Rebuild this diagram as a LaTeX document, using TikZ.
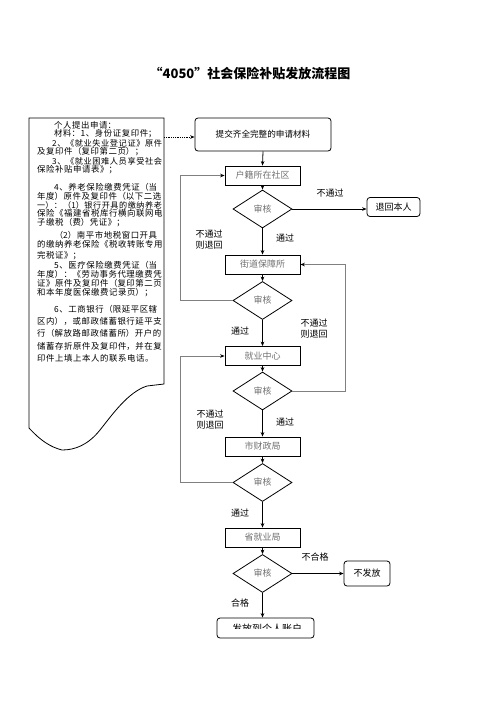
\documentclass[tikz,border=0pt]{standalone}
\usepackage{fontspec}
\setmainfont{Noto Sans CJK SC}
\newfontfamily\docfont{Noto Sans CJK SC}[Kerning=Off,LetterSpace=7]
\usetikzlibrary{arrows.meta,shapes.geometric}
\definecolor{tgray}{HTML}{707070}
\definecolor{lgray}{HTML}{808080}
\newcommand{\dLP}{\makebox[1.07em][r]{^^^^ff08}}
\newcommand{\dRP}{\makebox[1.07em][l]{^^^^ff09}}
\newcommand{\dCO}{\makebox[1.07em][l]{^^^^ff1a}}
\newcommand{\dSC}{\makebox[1.07em][l]{^^^^ff1b}}
\newcommand{\dCM}{\makebox[1.07em][l]{^^^^ff0c}}
\begin{document}
\begin{tikzpicture}[x=1pt,y=-1pt,
  every node/.style={inner sep=0pt},
  flowbox/.style={draw, line width=0.8pt, minimum width=75pt, minimum height=19pt, text=tgray, font=\fontsize{9}{10}\selectfont},
  checkdia/.style={diamond, draw, line width=0.8pt, aspect=1.55, minimum width=59pt, minimum height=38pt, text=tgray, font=\fontsize{9}{10}\selectfont},
  roundbox/.style={draw, line width=0.8pt, rounded corners=3pt, font=\fontsize{9}{10}\selectfont},
  lbl/.style={font=\fontsize{9}{11}\selectfont, align=center},
  doctext/.style={anchor=west, font=\docfont\fontsize{8.4}{10}\selectfont},
  arr/.style={line width=0.8pt, -{Stealth[length=4.5pt,width=3.6pt]}},
  backarr/.style={line width=0.9pt, draw=lgray, -{Stealth[length=4.5pt,width=3.6pt,black]}},
]
\useasboundingbox (0,0) rectangle (496,702);

% title
\node[font=\fontsize{13}{15}\selectfont\bfseries] (title) at (250,73) {“4050”社会保险补贴发放流程图};

% document shape
\draw[line width=0.8pt] (29,118) -- (164,118) -- (164,384) -- (147,386)
  .. controls (128,392) and (112,415) .. (100,430)
  .. controls (88,445) and (75,450) .. (62,450)
  .. controls (50,447) and (40,440) .. (29,428) -- cycle;
\coordinate (docR) at (164,137);

\node[doctext] (t1) at (54,125) {个人提出申请\dCO};
\node[doctext] (t2) at (54,133.5) {材料\dCO 1、身份证复印件\dSC};
\node[doctext,font=\docfont\fontsize{8.2}{10}\selectfont] (t3) at (52,143) {2、《就业失业登记证》原件};
\node[doctext] (t4) at (37,151.5) {及复印件\dLP 复印第二页\dRP\dSC};
\node[doctext,font=\docfont\fontsize{8.2}{10}\selectfont] (t5) at (52,161) {3、《就业困难人员享受社会};
\node[doctext] (t6) at (37,169.5) {保险补贴申请表》\dSC};
\node[doctext] (t7) at (54,187.5) {4、养老保险缴费凭证\dLP 当};
\node[doctext] (t8) at (37,196.5) {年度\dRP 原件及复印件\dLP 以下二选};
\node[doctext,font=\docfont\fontsize{8.1}{10}\selectfont] (t9) at (37,205) {一\dRP\dCO\dLP 1\dRP 银行开具的缴纳养老};
\node[doctext] (t10) at (37,213.5) {保险《福建省税库行横向联网电};
\node[doctext] (t11) at (37,222.5) {子缴税\dLP 费\dRP 凭证》\dSC};
\node[doctext] (t12) at (54,235) {\dLP 2\dRP 南平市地税窗口开具};
\node[doctext] (t13) at (37,244.5) {的缴纳养老保险《税收转账专用};
\node[doctext] (t14) at (37,255.5) {完税证》\dSC};
\node[doctext] (t15) at (54,265) {5、医疗保险缴费凭证\dLP 当};
\node[doctext] (t16) at (37,274) {年度\dRP\dCO《劳动事务代理缴费凭};
\node[doctext] (t17) at (37,283.5) {证》原件及复印件\dLP 复印第二页};
\node[doctext] (t18) at (37,293) {和本年度医保缴费记录页\dRP\dSC};
\node[doctext] (t19) at (54,309) {6、工商银行\dLP 限延平区辖};
\node[doctext] (t20) at (37,321) {区内\dRP\dCM 或邮政储蓄银行延平支};
\node[doctext] (t21) at (37,333.5) {行\dLP 解放路邮政储蓄所\dRP 开户的};
\node[doctext] (t22) at (37,346) {储蓄存折原件及复印件\dCM 并在复};
\node[doctext] (t23) at (37,358) {印件上填上本人的联系电话。};

% flow nodes
\node[roundbox, minimum width=136pt, minimum height=33pt, font=\fontsize{8.6}{10}\selectfont] (submit) at (263,134.5) {提交齐全完整的申请材料};
\node[flowbox] (hj) at (262.5,175.5) {户籍所在社区};
\node[checkdia] (d1) at (262.5,209) {审核};
\node[roundbox, minimum width=53pt, minimum height=19pt] (thbr) at (393.5,207) {退回本人};
\node[flowbox] (jd) at (262.5,264.5) {街道保障所};
\node[checkdia] (d2) at (262.5,300.5) {审核};
\node[flowbox] (jy) at (262.5,356) {就业中心};
\node[checkdia] (d3) at (262.5,391) {审核};
\node[flowbox] (cz) at (262.5,446.5) {市财政局};
\node[checkdia] (d4) at (262.5,482.5) {审核};
\node[flowbox] (sj) at (262.5,537.5) {省就业局};
\node[checkdia] (d5) at (262.5,573.5) {审核};
\node[roundbox, minimum width=46pt, minimum height=25pt] (bff) at (367,573.5) {\raisebox{-3pt}{不发放}};
\node[roundbox, minimum width=97pt, minimum height=20pt] (final) at (265.5,628) {};
\begin{scope}
  \clip (217,617) rectangle (314,628.5);
  \node[font=\fontsize{10}{11}\selectfont] (finaltext) at (267,628.5) {发放到个人账户};
\end{scope}

% connectors
\draw[line width=0.8pt, densely dotted, -{Stealth[length=4.5pt,width=3.6pt]}] (docR) -- (submit.west |- docR);
\draw[arr] (submit.south) -- (hj.north);
\draw[arr] (hj.south) -- (d1.north);
\draw[arr] (d1.east) -- (d1.east -| thbr.west);
\draw[arr] (d1.south) -- (jd.north);
\draw[arr] (jd.south) -- (d2.north);
\draw[arr] (d2.south) -- (jy.north);
\draw[arr] (jy.south) -- (d3.north);
\draw[arr] (d3.south) -- (cz.north);
\draw[arr] (cz.south) -- (d4.north);
\draw[arr] (d4.south) -- (sj.north);
\draw[arr] (sj.south) -- (d5.north);
\draw[arr] (d5.east) -- (bff.west);
\draw[arr] (d5.south) -- (d5.south |- final.north);

\coordinate (lx) at (180,0);
\coordinate (rx) at (345,0);
\draw[backarr] (d2.west) -- (d2.west -| lx) |- (hj.west);
\draw[backarr] (d4.west) -- (d4.west -| lx) |- (jy.west);
\draw[backarr] (d3.east) -- (d3.east -| rx) |- (jd.east);

% labels
\node[lbl] (n1) at (330,193) {不通过};
\node[lbl] (p1) at (285,238) {通过};
\node[lbl] (r1) at (209,240) {不通过\\则退回};
\node[lbl] (p2) at (240,331) {通过};
\node[lbl] (r2) at (314,329) {不通过\\则退回};
\node[lbl] (r3) at (210,420) {不通过\\则退回};
\node[lbl] (p3) at (285,422) {通过};
\node[lbl] (p4) at (240,513) {通过};
\node[lbl] (n2) at (315,557) {不合格};
\node[lbl] (p5) at (240,603) {合格};
\end{tikzpicture}
\end{document}
